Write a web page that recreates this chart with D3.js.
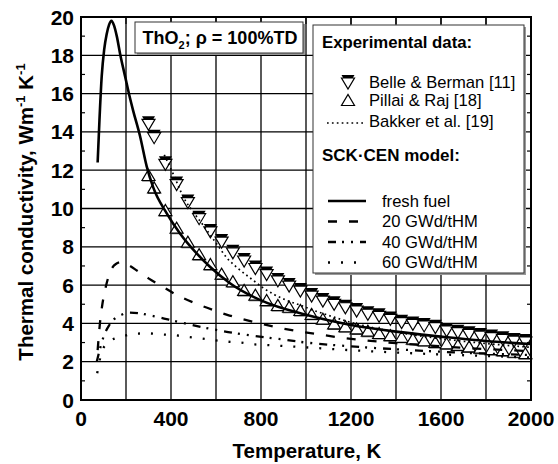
<!DOCTYPE html>
<html>
<head>
<meta charset="utf-8">
<script src="https://cdn.jsdelivr.net/npm/d3@7"></script>
<style>
  body { margin: 0; background: #fff; }
  text { font-family: "Liberation Sans", Arial, sans-serif; }
</style>
</head>
<body>
<svg id="chart" width="558" height="464"></svg>
<script>
// ---- data ----
var xTicks = [0, 400, 800, 1200, 1600, 2000];
var yTicks = [0, 2, 4, 6, 8, 10, 12, 14, 16, 18, 20];

// experimental points [T, k]
var belleBerman = [[300,14.45],[325,13.75],[375,12.36],[425,11.3],[475,10.36],[525,9.52],[575,8.83],
  [625,8.3],[675,7.74],[725,7.31],[775,6.92],[825,6.6],[875,6.27],[925,6.0],[975,5.74],[1025,5.48],
  [1075,5.22],[1125,5.05],[1175,4.87],[1225,4.7],[1275,4.53],[1325,4.42],[1375,4.26],[1425,4.09],
  [1475,4.0],[1525,3.92],[1575,3.83],[1625,3.66],[1675,3.57],[1725,3.48],[1775,3.39],[1825,3.31],
  [1875,3.22],[1925,3.13],[1975,3.08]];
var pillaiRaj = [[300,11.75],[325,11.1],[375,9.92],[425,9.0],[475,8.27],[525,7.62],[575,7.1],
  [625,6.6],[675,6.2],[725,5.75],[775,5.5],[825,5.22],[875,4.96],[925,4.87],[975,4.7],[1025,4.5],
  [1075,4.25],[1125,4.0],[1175,3.85],[1225,3.74],[1275,3.62],[1325,3.5],[1375,3.39],[1425,3.3],
  [1475,3.2],[1525,3.12],[1575,3.03],[1625,2.96],[1675,2.88],[1725,2.8],[1775,2.73],[1825,2.66],
  [1875,2.6],[1925,2.52],[1975,2.45]];
var bakker = [[370,12.8],[410,11.8],[455,10.6],[500,9.8],[545,9.1],[600,8.2],[650,7.4],[700,6.85],
  [760,6.3],[810,5.85],[860,5.5],[915,5.2],[975,4.95],[1025,4.72],[1100,4.42],[1200,4.05],
  [1400,3.55],[1600,3.2],[1800,2.95],[2000,2.75]];

// SCK-CEN model curves [T, k]
var freshFuel = [[74,12.4],[82,14.6],[92,16.9],[103,18.3],[114,19.1],[125,19.6],[135,19.8],[147,19.55],
  [159,19.0],[175,18.0],[196,16.9],[215,15.9],[232,15.1],[262,13.8],[292,12.2],[321,11.1],[381,9.75],
  [440,8.7],[514,7.66],[573,6.96],[662,6.1],[800,5.2],[1000,4.45],[1200,3.92],[1400,3.57],
  [1600,3.31],[1800,3.08],[2000,2.92]];
var gwd20 = [[74,2.6],[85,4.1],[95,5.0],[110,5.9],[130,6.7],[155,7.1],[180,7.2],[210,7.05],[250,6.75],
  [300,6.35],[350,6.0],[440,5.4],[530,4.95],[650,4.45],[770,4.07],[870,3.8],[960,3.6],[1060,3.42],
  [1160,3.25],[1260,3.12],[1400,2.97],[1600,2.8],[1800,2.66],[2000,2.55]];
var gwd40 = [[70,2.0],[85,2.7],[100,3.3],[125,3.9],[150,4.25],[180,4.45],[210,4.56],[262,4.52],
  [314,4.4],[351,4.31],[410,4.14],[540,3.8],[654,3.55],[770,3.35],[870,3.2],[1000,3.0],[1200,2.8],
  [1400,2.65],[1600,2.52],[1800,2.42],[2000,2.35]];
var gwd60 = [[72,1.4],[92,2.5],[110,2.9],[130,3.1],[180,3.3],[236,3.46],[295,3.48],[351,3.43],
  [410,3.39],[470,3.3],[529,3.22],[647,3.05],[707,3.0],[773,2.9],[825,2.87],[1000,2.75],[1200,2.6],
  [1400,2.48],[1600,2.38],[1800,2.3],[2000,2.22]];

var models = [
  {name: 'fresh fuel', data: freshFuel, dash: null, width: 2.6},
  {name: '20 GWd/tHM', data: gwd20, dash: '9,12', width: 2.3},
  {name: '40 GWd/tHM', data: gwd40, dash: '8,6,2,7,2,7', width: 2.3},
  {name: '60 GWd/tHM', data: gwd60, dash: '2,11', width: 2.3}
];

// ---- layout ----
var svg = d3.select('#chart');
var x = d3.scaleLinear().domain([0, 2000]).range([81, 531]);
var y = d3.scaleLinear().domain([0, 20]).range([400, 17]);

var plot = svg.append('g');

// grid
plot.selectAll('line.vgrid')
    .data(d3.range(200, 2000, 200))
    .enter().append('line')
    .attr('x1', function(d) { return x(d); }).attr('x2', function(d) { return x(d); })
    .attr('y1', y(0)).attr('y2', y(20))
    .attr('stroke', '#000').attr('stroke-width', 1.3);
plot.selectAll('line.hgrid')
    .data(d3.range(2, 20, 2))
    .enter().append('line')
    .attr('x1', x(0)).attr('x2', x(2000))
    .attr('y1', function(d) { return y(d); }).attr('y2', function(d) { return y(d); })
    .attr('stroke', '#000').attr('stroke-width', 1.3);

// markers first, lines drawn over them
function triPath(cx, cy, down) {
    var w = 6.5, h = 5.5;
    if (down) return 'M' + (cx - w) + ',' + (cy - h) + 'L' + (cx + w) + ',' + (cy - h) + 'L' + cx + ',' + (cy + h) + 'Z';
    return 'M' + (cx - w) + ',' + (cy + h) + 'L' + (cx + w) + ',' + (cy + h) + 'L' + cx + ',' + (cy - h) + 'Z';
}
function drawBelle(g, cx, cy) {
    g.append('path').attr('d', triPath(cx, cy - 1.5, true)).attr('fill', '#000');
    g.append('path').attr('d', triPath(cx, cy + 1.5, true))
        .attr('fill', '#fff').attr('stroke', '#000').attr('stroke-width', 1.2);
}
function drawPillai(g, cx, cy, thick) {
    if (thick) g.append('path').attr('d', triPath(cx, cy + 1, false)).attr('fill', '#555');
    g.append('path').attr('d', triPath(cx, cy, false))
        .attr('fill', '#fff').attr('stroke', '#000').attr('stroke-width', 1.2);
}

var marks = svg.append('g');
pillaiRaj.forEach(function(d) { drawPillai(marks, x(d[0]), y(d[1]), true); });
belleBerman.forEach(function(d) { drawBelle(marks, x(d[0]), y(d[1])); });

var line = d3.line()
    .x(function(d) { return x(d[0]); })
    .y(function(d) { return y(d[1]); })
    .curve(d3.curveMonotoneX);

svg.append('path').datum(bakker)
    .attr('d', line).attr('fill', 'none')
    .attr('stroke', '#000').attr('stroke-width', 1.7).attr('stroke-dasharray', '1.7,3.2');

models.forEach(function(m) {
    svg.append('path').datum(m.data)
        .attr('d', line).attr('fill', 'none')
        .attr('stroke', '#000').attr('stroke-width', m.width)
        .attr('stroke-dasharray', m.dash);
});

// frame & ticks
svg.append('rect')
    .attr('x', x(0)).attr('y', y(20))
    .attr('width', x(2000) - x(0)).attr('height', y(0) - y(20))
    .attr('fill', 'none').attr('stroke', '#000').attr('stroke-width', 2);

var tickG = svg.append('g').attr('stroke', '#000').attr('stroke-width', 1.2);
d3.range(200, 2000, 200).forEach(function(t) {
    tickG.append('line').attr('x1', x(t)).attr('x2', x(t)).attr('y1', y(20)).attr('y2', y(20) + 7);
});
d3.range(1, 20, 2).forEach(function(v) {
    tickG.append('line').attr('x1', x(0)).attr('x2', x(0) + 4).attr('y1', y(v)).attr('y2', y(v));
    tickG.append('line').attr('x1', x(2000)).attr('x2', x(2000) - 4).attr('y1', y(v)).attr('y2', y(v));
});

// tick labels
svg.selectAll('text.xt')
    .data(xTicks).enter().append('text')
    .attr('x', function(d) { return x(d); }).attr('y', 426)
    .attr('text-anchor', 'middle')
    .style('font-size', '21px').style('font-weight', 'bold')
    .text(function(d) { return d; });
svg.selectAll('text.yt')
    .data(yTicks).enter().append('text')
    .attr('x', 74).attr('y', function(d) { return y(d) + 7.5; })
    .attr('text-anchor', 'end')
    .style('font-size', '21px').style('font-weight', 'bold')
    .text(function(d) { return d; });

// axis titles
svg.append('text')
    .attr('x', 307).attr('y', 458)
    .attr('text-anchor', 'middle')
    .style('font-size', '20.5px').style('font-weight', 'bold')
    .text('Temperature, K');

var yl = svg.append('text')
    .attr('transform', 'translate(33,212) rotate(-90)')
    .attr('text-anchor', 'middle')
    .style('font-size', '20.5px').style('font-weight', 'bold');
yl.append('tspan').text('Thermal conductivity, Wm');
yl.append('tspan').attr('dy', -8).style('font-size', '13px').text('-1');
yl.append('tspan').attr('dy', 8).text(' K');
yl.append('tspan').attr('dy', -8).style('font-size', '13px').text('-1');

// title box
svg.append('rect').attr('x', 137).attr('y', 24).attr('width', 168).attr('height', 31).attr('fill', '#999');
svg.append('rect').attr('x', 135).attr('y', 22).attr('width', 168).attr('height', 31)
    .attr('fill', '#fff').attr('stroke', '#333').attr('stroke-width', 1);
var tt = svg.append('text').attr('x', 220).attr('y', 44).attr('text-anchor', 'middle')
    .style('font-size', '18px').style('font-weight', 'bold');
tt.append('tspan').text('ThO');
tt.append('tspan').attr('dy', 5).style('font-size', '11px').text('2');
tt.append('tspan').attr('dy', -5).text('; \u03c1 = 100%TD');

// legend box
svg.append('rect').attr('x', 315).attr('y', 27).attr('width', 211).attr('height', 248).attr('fill', '#999');
svg.append('rect').attr('x', 313).attr('y', 25).attr('width', 211).attr('height', 248)
    .attr('fill', '#fff').attr('stroke', '#333').attr('stroke-width', 1);

var leg = svg.append('g');
leg.append('text').attr('x', 322).attr('y', 48)
    .style('font-size', '16.8px').style('font-weight', 'bold').text('Experimental data:');
drawBelle(leg, 348, 82);
leg.append('text').attr('x', 369).attr('y', 88).style('font-size', '16.6px').text('Belle & Berman [11]');
drawPillai(leg, 348, 100, false);
leg.append('text').attr('x', 369).attr('y', 106).style('font-size', '16.6px').text('Pillai & Raj [18]');
leg.append('line').attr('x1', 327).attr('x2', 366).attr('y1', 123).attr('y2', 123)
    .attr('stroke', '#000').attr('stroke-width', 1.7).attr('stroke-dasharray', '1.7,3.2');
leg.append('text').attr('x', 369).attr('y', 127).style('font-size', '16.6px').text('Bakker et al. [19]');

leg.append('text').attr('x', 322).attr('y', 161)
    .style('font-size', '17px').style('font-weight', 'bold').text('SCK\u00b7CEN model:');

models.forEach(function(m, i) {
    var ly = 201 + i * 20.5;
    leg.append('line').attr('x1', 328).attr('x2', 366).attr('y1', ly).attr('y2', ly)
        .attr('stroke', '#000').attr('stroke-width', m.width).attr('stroke-dasharray', m.dash);
    leg.append('text').attr('x', 382).attr('y', ly + 5.5).style('font-size', '16.6px').text(m.name);
});
</script>
</body>
</html>
